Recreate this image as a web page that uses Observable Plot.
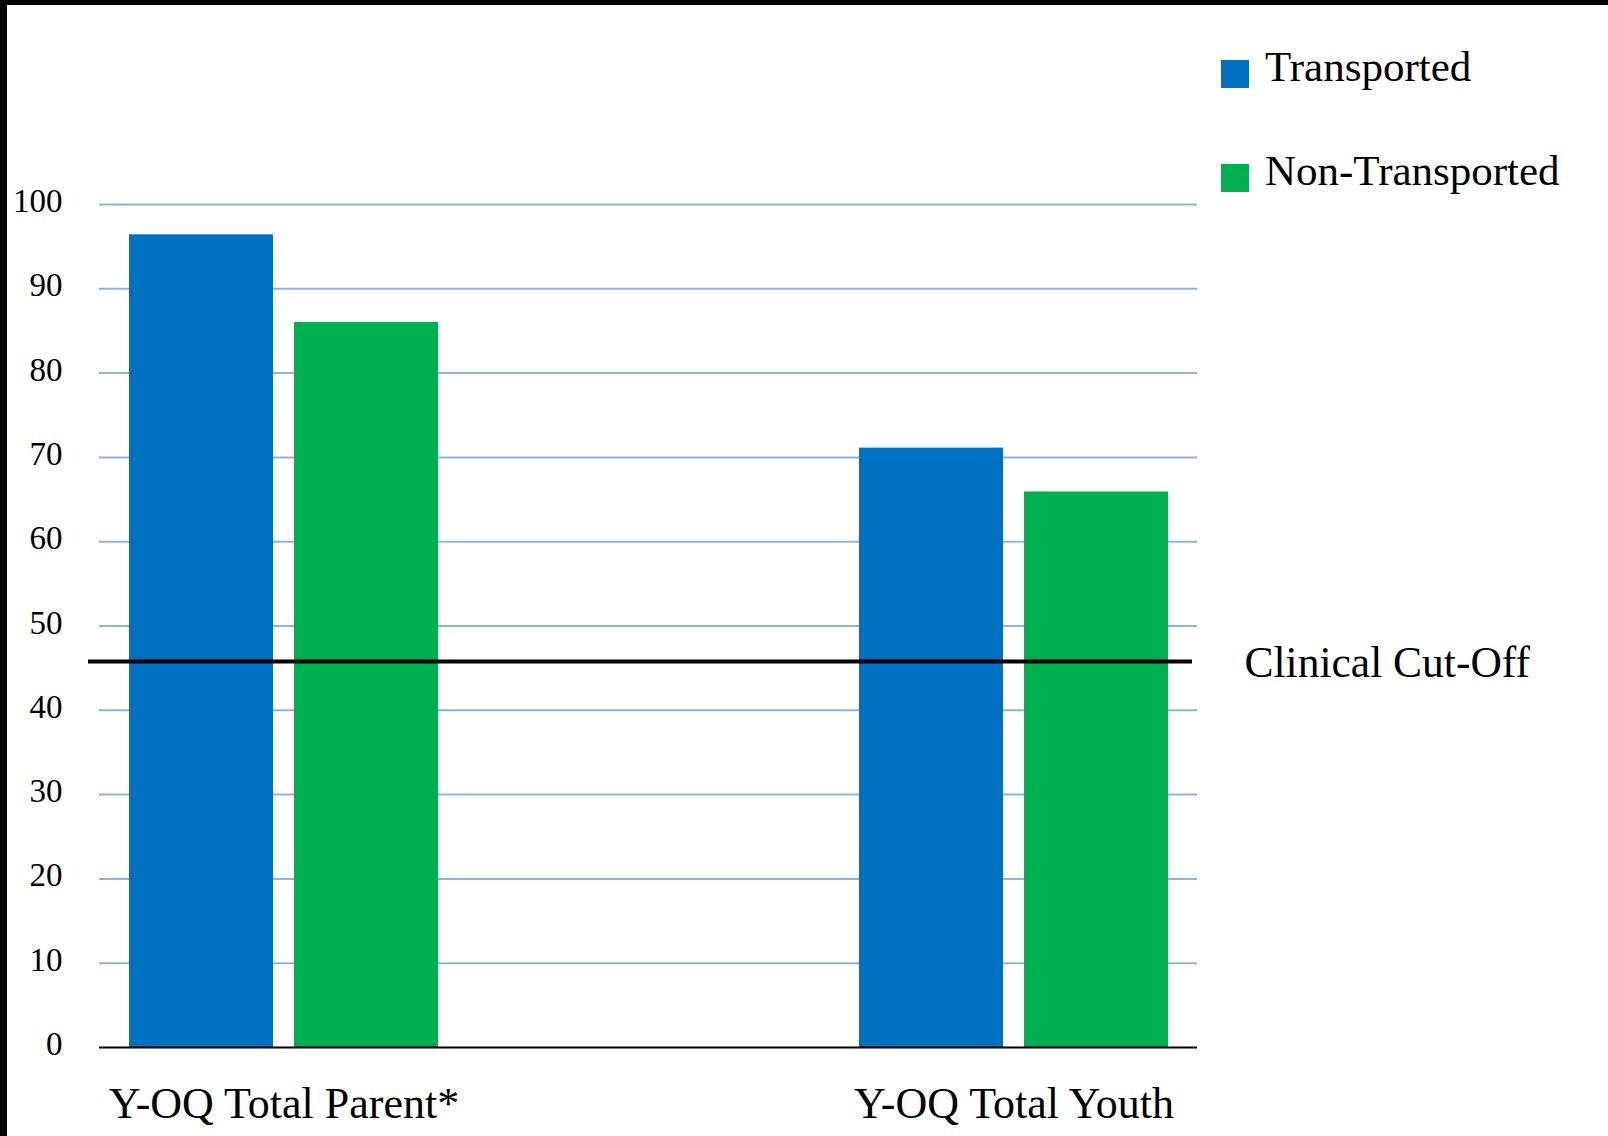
<!DOCTYPE html>
<html>
<head>
<meta charset="utf-8">
<script src="https://cdn.jsdelivr.net/npm/d3@7"></script>
<script src="https://cdn.jsdelivr.net/npm/@observablehq/plot@0.6"></script>
<style>
  html, body { margin: 0; padding: 0; background: #fff; }
  #wrap { position: relative; width: 1608px; height: 1136px; overflow: hidden; background: #fff;
          font-family: "Times New Roman", "Liberation Serif", serif; }
  #border { position: absolute; left: 0; top: 0; width: 1608px; height: 1136px; box-sizing: border-box;
            border-left: 7px solid #000; border-top: 5px solid #000; pointer-events: none; z-index: 3; }
  #chart { position: absolute; left: 0; top: 0; }
  .sw { position: absolute; left: 1221px; width: 28px; height: 28px; z-index: 2; }
  .lt { position: absolute; left: 1265px; font-size: 43px; line-height: 1; color: #000; white-space: nowrap; z-index: 2; }
</style>
</head>
<body>
<div id="wrap">
  <div id="chart"></div>
  <div id="legend"></div>
  <div id="border"></div>
</div>
<script>
// ---- data ----
const categories = ["Y-OQ Total Parent*", "Y-OQ Total Youth"];
const seriesNames = ["Transported", "Non-Transported"];
const transported = [96.4, 71.1];
const nonTransported = [86.0, 65.9];
const seriesColors = ["#0070C0", "#00B050"];
const yTicks = [0, 10, 20, 30, 40, 50, 60, 70, 80, 90, 100];
const cutoffValue = 45.8;
const cutoffLabel = "Clinical Cut-Off";

const rowsT = categories.map((c, i) => ({category: c, series: seriesNames[0], value: transported[i]}));
const rowsN = categories.map((c, i) => ({category: c, series: seriesNames[1], value: nonTransported[i]}));

const font = '"Times New Roman", "Liberation Serif", serif';
const bandwidth = 309, barW = 144;

const chart = Plot.plot({
  width: 1608,
  height: 1136,
  marginLeft: 99,
  marginRight: 411,
  marginTop: 204,
  marginBottom: 89,
  style: {fontFamily: font, background: "transparent", overflow: "visible", color: "#000"},
  x: {domain: categories, range: [128, 1168], paddingInner: 0.577, paddingOuter: 0, label: null},
  y: {domain: [0, 100], label: null},
  marks: [
    Plot.ruleY(yTicks.filter(d => d > 0), {stroke: "#8DB3E2", strokeWidth: 2}),
    Plot.barY(rowsT, {x: "category", y: "value", fill: seriesColors[0], insetRight: bandwidth - barW, insetLeft: 0}),
    Plot.barY(rowsN, {x: "category", y: "value", fill: seriesColors[1], insetLeft: bandwidth - barW, insetRight: 0}),
    Plot.ruleY([0], {stroke: "#000", strokeWidth: 2}),
    Plot.ruleY([cutoffValue], {stroke: "#000", strokeWidth: 4, insetLeft: -11, insetRight: 5}),
    Plot.text([cutoffLabel], {y: [cutoffValue], text: d => d, frameAnchor: "right", textAnchor: "start", dx: 47, dy: 2, fontSize: 43.5, fill: "#000"}),
    Plot.axisY(yTicks, {tickSize: 0, tickPadding: 37, fontSize: 33, dy: -3, fill: "#000", label: null}),
    Plot.axisX({tickSize: 0, tickPadding: 39, fontSize: 44, fill: "#000", label: null})
  ]
});
document.getElementById("chart").appendChild(chart);

// legend
const legend = document.getElementById("legend");
const swatchTops = [60, 164];
const textTops = [45, 149];
seriesNames.forEach((name, i) => {
  const sw = document.createElement("div");
  sw.className = "sw";
  sw.style.top = swatchTops[i] + "px";
  sw.style.background = seriesColors[i];
  legend.appendChild(sw);
  const t = document.createElement("div");
  t.className = "lt";
  t.style.top = textTops[i] + "px";
  t.textContent = name;
  legend.appendChild(t);
});
</script>
</body>
</html>
